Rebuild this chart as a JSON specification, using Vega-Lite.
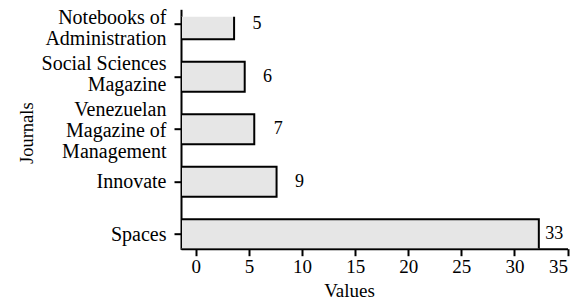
{
  "$schema": "https://vega.github.io/schema/vega-lite/v6.json",
  "width": 386.5,
  "height": 232,
  "autosize": "none",
  "padding": {"left": 181, "top": 16.7, "right": 16.5, "bottom": 52.3},
  "config": {"view": {"stroke": null}, "font": "Liberation Serif"},
  "data": {"values": [
    {"journal": "Notebooks of\nAdministration", "bar": 3.6, "count": 5},
    {"journal": "Social Sciences\nMagazine", "bar": 4.6, "count": 6},
    {"journal": "Venezuelan\nMagazine of\nManagement", "bar": 5.5, "count": 7},
    {"journal": "Innovate", "bar": 7.6, "count": 9},
    {"journal": "Spaces", "bar": 32.3, "count": 33}
  ]},
  "encoding": {
    "y": {
      "field": "journal", "type": "nominal", "sort": null, "title": "Journals",
      "scale": {"range": [-7.4, 232.6], "paddingInner": 0.43, "paddingOuter": 0},
      "axis": {
        "labelExpr": "split(datum.label, '\\n')",
        "labelFont": "Liberation Serif", "labelFontSize": 20, "labelColor": "black",
        "labelLineHeight": 21, "labelPadding": 8, "labelLimit": 300,
        "labelOffset": {"condition": [
          {"test": "indexof(datum.value, 'Venezuelan') >= 0", "value": -19.5},
          {"test": "indexof(datum.value, 'Notebooks') >= 0", "value": -6.5},
          {"test": "indexof(datum.value, 'Social') >= 0", "value": -12.5}
        ], "value": 0.5},
        "domainColor": "black", "domainWidth": 2, "tickColor": "black", "tickWidth": 2, "tickSize": 7,
        "titleFont": "Liberation Serif", "titleFontSize": 18.5, "titleFontWeight": "normal", "titleColor": "black",
        "titleX": -155, "titleY": 116, "titleBaseline": "middle", "titleAlign": "center"
      }
    }
  },
  "layer": [
    {
      "mark": {"type": "bar", "fill": "#e6e6e6", "stroke": "black", "strokeWidth": 2, "clip": true},
      "encoding": {
        "x": {
          "field": "bar", "type": "quantitative", "title": "Values",
          "scale": {"domain": [-1.4, 35], "zero": false, "nice": false},
          "axis": {
            "values": [0, 5, 10, 15, 20, 25, 30, 35], "grid": false,
            "labelFont": "Liberation Serif", "labelFontSize": 19, "labelColor": "black", "labelPadding": 2,
            "domainColor": "black", "domainWidth": 2, "tickColor": "black", "tickWidth": 2, "tickSize": 7,
            "titleFont": "Liberation Serif", "titleFontSize": 19, "titleFontWeight": "normal", "titleColor": "black",
            "titleX": 168, "titleY": 48, "titleBaseline": "alphabetic", "titleAlign": "center"
          }
        },
        "x2": {"datum": -1.4}
      }
    },
    {
      "mark": {"type": "text", "dx": 8, "font": "Liberation Serif", "fontSize": 18, "align": "center", "baseline": "middle", "color": "black"},
      "encoding": {
        "x": {"field": "count", "type": "quantitative"},
        "text": {"field": "count", "type": "quantitative"}
      }
    }
  ]
}
